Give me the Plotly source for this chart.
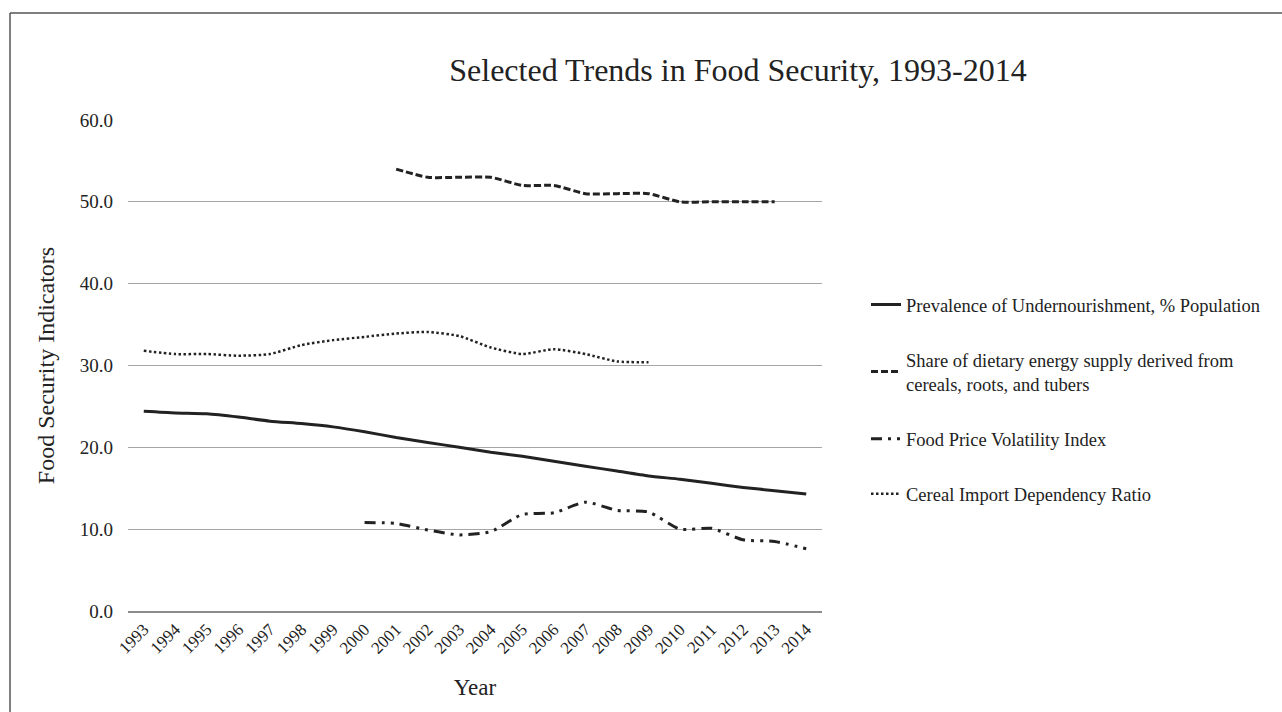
import plotly.graph_objects as go

years = [str(y) for y in range(1993, 2015)]

undernourishment = [24.4, 24.2, 24.1, 23.7, 23.2, 22.9, 22.5, 21.9, 21.2, 20.6, 20.0,
                    19.4, 18.9, 18.3, 17.7, 17.1, 16.5, 16.1, 15.6, 15.1, 14.7, 14.3]

dietary_share = [None, None, None, None, None, None, None, None,
                 54.0, 53.0, 53.0, 53.0, 52.0, 52.0, 51.0, 51.0, 51.0, 50.0, 50.0, 50.0, 50.0, None]

price_volatility = [None, None, None, None, None, None, None,
                    10.8, 10.7, 9.9, 9.3, 9.7, 11.8, 12.0, 13.3, 12.3, 12.1, 10.0, 10.1, 8.7, 8.5, 7.6]

cereal_import = [31.8, 31.4, 31.4, 31.2, 31.4, 32.5, 33.1, 33.5, 33.9, 34.1, 33.6,
                 32.2, 31.4, 32.0, 31.4, 30.5, 30.4, None, None, None, None, None]

y_ticks = [0, 10, 20, 30, 40, 50, 60]

names = [
    "Prevalence of Undernourishment, % Population",
    "Share of dietary energy supply derived from<br>cereals, roots, and tubers",
    "Food Price Volatility Index",
    "Cereal Import Dependency Ratio",
]

FONT = "Liberation Serif, Times New Roman, serif"
INK = "#222222"

fig = go.Figure()
series = [
    (undernourishment, "solid", 3),
    (dietary_share, "7px,3px", 3),
    (price_volatility, "11px,6px,3px,6px,3px,6px", 3),
    (cereal_import, "2.5px,2.5px", 2.5),
]
for i, (vals, dash, w) in enumerate(series):
    fig.add_trace(go.Scatter(
        x=years, y=vals, name=names[i], mode="lines",
        line=dict(color=INK, width=w, dash=dash, shape="spline", smoothing=0.6),
        legendgroup=f"g{i}", connectgaps=False,
    ))

W, H = 1282, 712
L, R, T, B = 128, 822, 120, 611
fig.update_layout(
    width=W, height=H,
    margin=dict(l=L, r=W - R, t=T, b=H - B),
    paper_bgcolor="white", plot_bgcolor="white",
    font=dict(family=FONT, color=INK, size=18),
    title=dict(text="Selected Trends in Food Security, 1993-2014",
               x=(738) / W, xanchor="center", y=1 - 70 / H, yanchor="middle",
               font=dict(family=FONT, size=32, color=INK)),
    showlegend=True,
    legend=dict(x=(866 - L) / (R - L), xanchor="left", y=(B - 286) / (B - T), yanchor="top",
                font=dict(family=FONT, size=18.5, color=INK),
                tracegroupgap=28, bgcolor="rgba(0,0,0,0)"),
    xaxis=dict(type="category", tickangle=-45, showgrid=False, range=[-0.5, 21.5],
               showline=True, linecolor="#8c8c8c", linewidth=1.5,
               ticks="", tickfont=dict(family=FONT, size=17, color=INK),
               title=dict(text="Year", font=dict(family=FONT, size=23, color=INK), standoff=22)),
    yaxis=dict(range=[0, 60], tickvals=y_ticks, tickformat=".1f",
               showgrid=True, gridcolor="#a6a6a6", gridwidth=1,
               zeroline=False, showline=False, ticks="",
               ticklabelstandoff=14,
               tickfont=dict(family=FONT, size=19, color=INK),
               title=dict(text="Food Security Indicators",
                          font=dict(family=FONT, size=24, color=INK), standoff=18)),
)

# outer frame (left and top edges visible)
fx0 = (10 - L) / (R - L)
fy1 = (B - 13) / (B - T)
fig.add_shape(type="line", xref="paper", yref="paper", x0=fx0, x1=fx0, y0=fy1, y1=-0.3,
              line=dict(color="#555555", width=1.5))
fig.add_shape(type="line", xref="paper", yref="paper", x0=fx0, x1=2.0, y0=fy1, y1=fy1,
              line=dict(color="#555555", width=1.5))

fig.write_html("out.html")
